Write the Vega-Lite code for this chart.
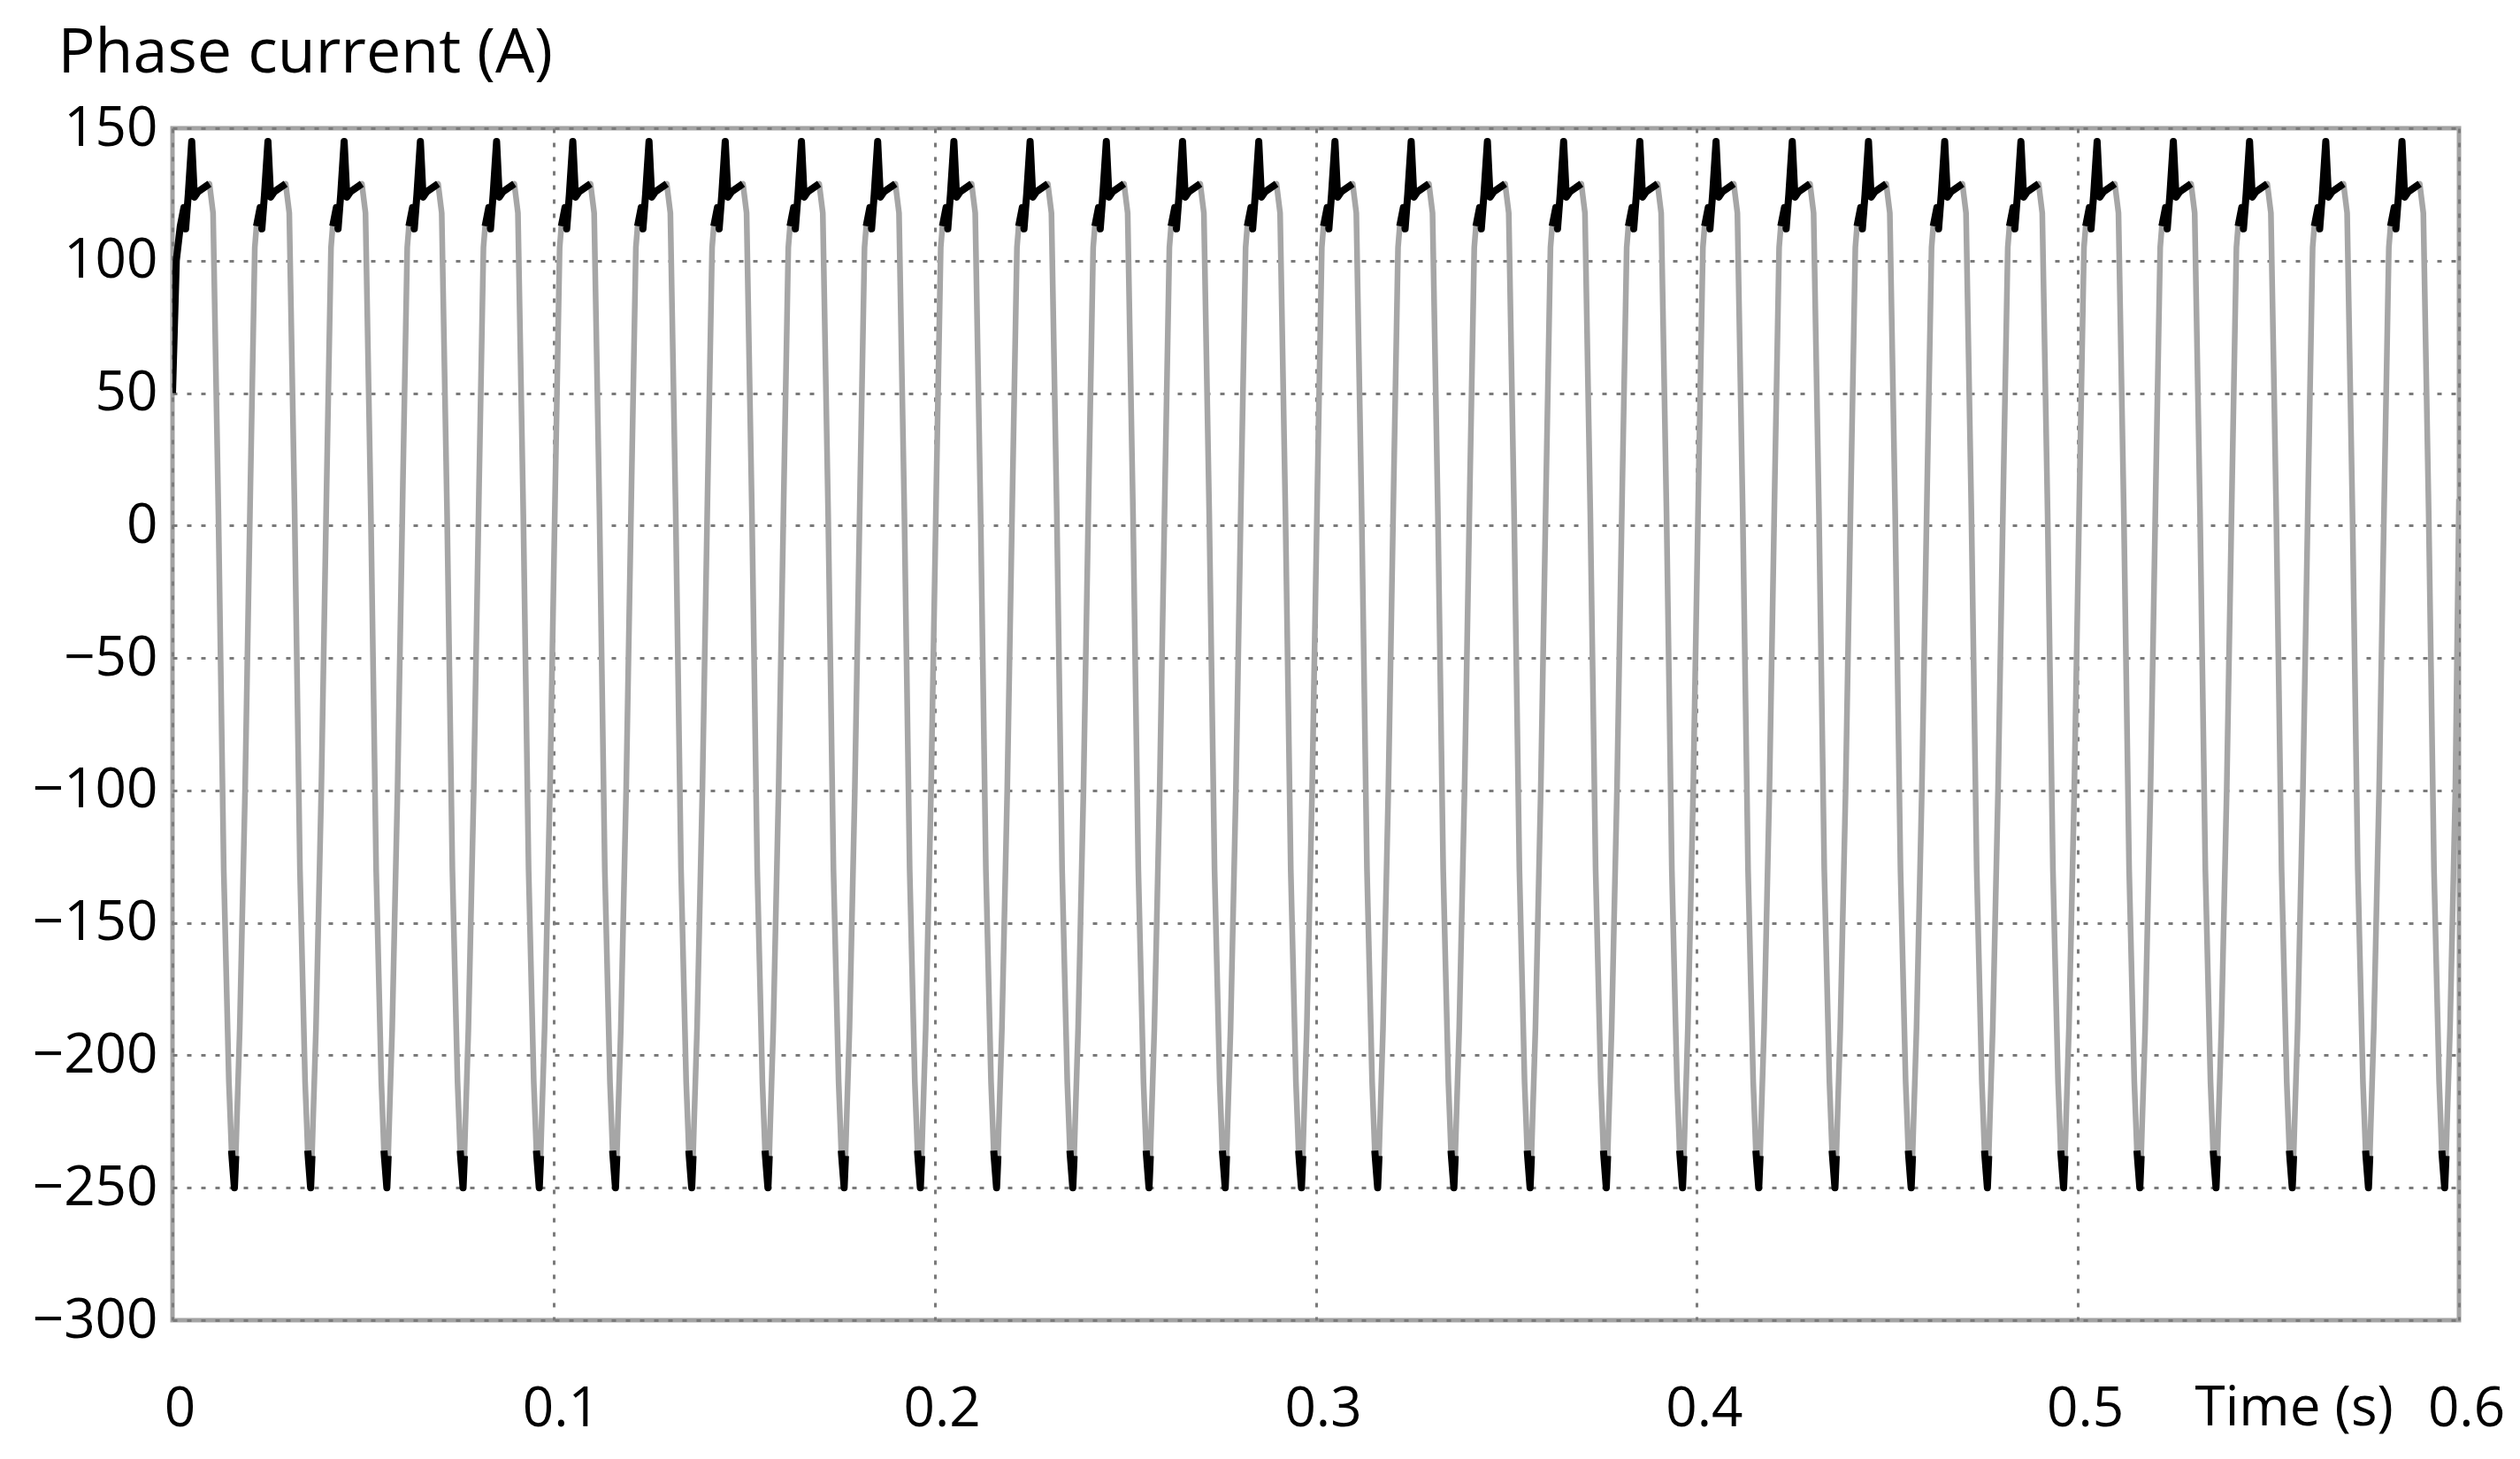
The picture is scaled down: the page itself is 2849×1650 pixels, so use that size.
{
"$schema":"https://vega.github.io/schema/vega-lite/v6.json",
"width":2585,"height":1348,"autosize":"none",
"padding":{"left":195,"top":145,"right":69,"bottom":157},
"background":"white",
"config":{"view":{"stroke":"#a3a3a3","strokeWidth":5},
"axis":{"domain":false,"ticks":false,"grid":true,"gridColor":"#7a7a7a","gridDash":[5,11],"gridWidth":3,"labelFont":"Open Sans","labelFontSize":62,"labelColor":"#000","titleFont":"Open Sans","titleFontSize":64,"titleFontWeight":"normal","titleColor":"#000"}},
"data":{"values":[
{"t":0,"v":50,"s":"p-1"},{"t":0.001,"v":100,"s":"p-1"},{"t":0.00205,"v":113,"s":"p-1"},{"t":0.003,"v":120,"s":"p-1"},{"t":0.00345,"v":112,"s":"p-1"},{"t":0.00415,"v":125,"s":"p-1"},{"t":0.00505,"v":145,"s":"p-1"},{"t":0.00575,"v":124,"s":"p-1"},{"t":0.0067,"v":126,"s":"p-1"},{"t":0.0097,"v":129,"s":"p-1"},{"t":0.01065,"v":118},{"t":0.01205,"v":5},{"t":0.01345,"v":-130},{"t":0.0148,"v":-210},{"t":0.0155,"v":-236,"s":"q0"},
{"t":0.01625,"v":-250,"s":"q0"},{"t":0.0166,"v":-238,"s":"q0"},{"t":0.01765,"v":-190},{"t":0.01905,"v":-100},{"t":0.02045,"v":15},{"t":0.0216,"v":105},{"t":0.02205,"v":113,"s":"p0"},{"t":0.023,"v":120,"s":"p0"},{"t":0.02345,"v":112,"s":"p0"},{"t":0.02415,"v":125,"s":"p0"},{"t":0.02505,"v":145,"s":"p0"},{"t":0.02575,"v":124,"s":"p0"},{"t":0.0267,"v":126,"s":"p0"},{"t":0.0297,"v":129,"s":"p0"},{"t":0.03065,"v":118},{"t":0.03205,"v":5},{"t":0.03345,"v":-130},{"t":0.0348,"v":-210},{"t":0.0355,"v":-236,"s":"q1"},
{"t":0.03625,"v":-250,"s":"q1"},{"t":0.0366,"v":-238,"s":"q1"},{"t":0.03765,"v":-190},{"t":0.03905,"v":-100},{"t":0.04045,"v":15},{"t":0.0416,"v":105},{"t":0.04205,"v":113,"s":"p1"},{"t":0.043,"v":120,"s":"p1"},{"t":0.04345,"v":112,"s":"p1"},{"t":0.04415,"v":125,"s":"p1"},{"t":0.04505,"v":145,"s":"p1"},{"t":0.04575,"v":124,"s":"p1"},{"t":0.0467,"v":126,"s":"p1"},{"t":0.0497,"v":129,"s":"p1"},{"t":0.05065,"v":118},{"t":0.05205,"v":5},{"t":0.05345,"v":-130},{"t":0.0548,"v":-210},{"t":0.0555,"v":-236,"s":"q2"},
{"t":0.05625,"v":-250,"s":"q2"},{"t":0.0566,"v":-238,"s":"q2"},{"t":0.05765,"v":-190},{"t":0.05905,"v":-100},{"t":0.06045,"v":15},{"t":0.0616,"v":105},{"t":0.06205,"v":113,"s":"p2"},{"t":0.063,"v":120,"s":"p2"},{"t":0.06345,"v":112,"s":"p2"},{"t":0.06415,"v":125,"s":"p2"},{"t":0.06505,"v":145,"s":"p2"},{"t":0.06575,"v":124,"s":"p2"},{"t":0.0667,"v":126,"s":"p2"},{"t":0.0697,"v":129,"s":"p2"},{"t":0.07065,"v":118},{"t":0.07205,"v":5},{"t":0.07345,"v":-130},{"t":0.0748,"v":-210},{"t":0.0755,"v":-236,"s":"q3"},
{"t":0.07625,"v":-250,"s":"q3"},{"t":0.0766,"v":-238,"s":"q3"},{"t":0.07765,"v":-190},{"t":0.07905,"v":-100},{"t":0.08045,"v":15},{"t":0.0816,"v":105},{"t":0.08205,"v":113,"s":"p3"},{"t":0.083,"v":120,"s":"p3"},{"t":0.08345,"v":112,"s":"p3"},{"t":0.08415,"v":125,"s":"p3"},{"t":0.08505,"v":145,"s":"p3"},{"t":0.08575,"v":124,"s":"p3"},{"t":0.0867,"v":126,"s":"p3"},{"t":0.0897,"v":129,"s":"p3"},{"t":0.09065,"v":118},{"t":0.09205,"v":5},{"t":0.09345,"v":-130},{"t":0.0948,"v":-210},{"t":0.0955,"v":-236,"s":"q4"},
{"t":0.09625,"v":-250,"s":"q4"},{"t":0.0966,"v":-238,"s":"q4"},{"t":0.09765,"v":-190},{"t":0.09905,"v":-100},{"t":0.10045,"v":15},{"t":0.1016,"v":105},{"t":0.10205,"v":113,"s":"p4"},{"t":0.103,"v":120,"s":"p4"},{"t":0.10345,"v":112,"s":"p4"},{"t":0.10415,"v":125,"s":"p4"},{"t":0.10505,"v":145,"s":"p4"},{"t":0.10575,"v":124,"s":"p4"},{"t":0.1067,"v":126,"s":"p4"},{"t":0.1097,"v":129,"s":"p4"},{"t":0.11065,"v":118},{"t":0.11205,"v":5},{"t":0.11345,"v":-130},{"t":0.1148,"v":-210},{"t":0.1155,"v":-236,"s":"q5"},
{"t":0.11625,"v":-250,"s":"q5"},{"t":0.1166,"v":-238,"s":"q5"},{"t":0.11765,"v":-190},{"t":0.11905,"v":-100},{"t":0.12045,"v":15},{"t":0.1216,"v":105},{"t":0.12205,"v":113,"s":"p5"},{"t":0.123,"v":120,"s":"p5"},{"t":0.12345,"v":112,"s":"p5"},{"t":0.12415,"v":125,"s":"p5"},{"t":0.12505,"v":145,"s":"p5"},{"t":0.12575,"v":124,"s":"p5"},{"t":0.1267,"v":126,"s":"p5"},{"t":0.1297,"v":129,"s":"p5"},{"t":0.13065,"v":118},{"t":0.13205,"v":5},{"t":0.13345,"v":-130},{"t":0.1348,"v":-210},{"t":0.1355,"v":-236,"s":"q6"},
{"t":0.13625,"v":-250,"s":"q6"},{"t":0.1366,"v":-238,"s":"q6"},{"t":0.13765,"v":-190},{"t":0.13905,"v":-100},{"t":0.14045,"v":15},{"t":0.1416,"v":105},{"t":0.14205,"v":113,"s":"p6"},{"t":0.143,"v":120,"s":"p6"},{"t":0.14345,"v":112,"s":"p6"},{"t":0.14415,"v":125,"s":"p6"},{"t":0.14505,"v":145,"s":"p6"},{"t":0.14575,"v":124,"s":"p6"},{"t":0.1467,"v":126,"s":"p6"},{"t":0.1497,"v":129,"s":"p6"},{"t":0.15065,"v":118},{"t":0.15205,"v":5},{"t":0.15345,"v":-130},{"t":0.1548,"v":-210},{"t":0.1555,"v":-236,"s":"q7"},
{"t":0.15625,"v":-250,"s":"q7"},{"t":0.1566,"v":-238,"s":"q7"},{"t":0.15765,"v":-190},{"t":0.15905,"v":-100},{"t":0.16045,"v":15},{"t":0.1616,"v":105},{"t":0.16205,"v":113,"s":"p7"},{"t":0.163,"v":120,"s":"p7"},{"t":0.16345,"v":112,"s":"p7"},{"t":0.16415,"v":125,"s":"p7"},{"t":0.16505,"v":145,"s":"p7"},{"t":0.16575,"v":124,"s":"p7"},{"t":0.1667,"v":126,"s":"p7"},{"t":0.1697,"v":129,"s":"p7"},{"t":0.17065,"v":118},{"t":0.17205,"v":5},{"t":0.17345,"v":-130},{"t":0.1748,"v":-210},{"t":0.1755,"v":-236,"s":"q8"},
{"t":0.17625,"v":-250,"s":"q8"},{"t":0.1766,"v":-238,"s":"q8"},{"t":0.17765,"v":-190},{"t":0.17905,"v":-100},{"t":0.18045,"v":15},{"t":0.1816,"v":105},{"t":0.18205,"v":113,"s":"p8"},{"t":0.183,"v":120,"s":"p8"},{"t":0.18345,"v":112,"s":"p8"},{"t":0.18415,"v":125,"s":"p8"},{"t":0.18505,"v":145,"s":"p8"},{"t":0.18575,"v":124,"s":"p8"},{"t":0.1867,"v":126,"s":"p8"},{"t":0.1897,"v":129,"s":"p8"},{"t":0.19065,"v":118},{"t":0.19205,"v":5},{"t":0.19345,"v":-130},{"t":0.1948,"v":-210},{"t":0.1955,"v":-236,"s":"q9"},
{"t":0.19625,"v":-250,"s":"q9"},{"t":0.1966,"v":-238,"s":"q9"},{"t":0.19765,"v":-190},{"t":0.19905,"v":-100},{"t":0.20045,"v":15},{"t":0.2016,"v":105},{"t":0.20205,"v":113,"s":"p9"},{"t":0.203,"v":120,"s":"p9"},{"t":0.20345,"v":112,"s":"p9"},{"t":0.20415,"v":125,"s":"p9"},{"t":0.20505,"v":145,"s":"p9"},{"t":0.20575,"v":124,"s":"p9"},{"t":0.2067,"v":126,"s":"p9"},{"t":0.2097,"v":129,"s":"p9"},{"t":0.21065,"v":118},{"t":0.21205,"v":5},{"t":0.21345,"v":-130},{"t":0.2148,"v":-210},{"t":0.2155,"v":-236,"s":"q10"},
{"t":0.21625,"v":-250,"s":"q10"},{"t":0.2166,"v":-238,"s":"q10"},{"t":0.21765,"v":-190},{"t":0.21905,"v":-100},{"t":0.22045,"v":15},{"t":0.2216,"v":105},{"t":0.22205,"v":113,"s":"p10"},{"t":0.223,"v":120,"s":"p10"},{"t":0.22345,"v":112,"s":"p10"},{"t":0.22415,"v":125,"s":"p10"},{"t":0.22505,"v":145,"s":"p10"},{"t":0.22575,"v":124,"s":"p10"},{"t":0.2267,"v":126,"s":"p10"},{"t":0.2297,"v":129,"s":"p10"},{"t":0.23065,"v":118},{"t":0.23205,"v":5},{"t":0.23345,"v":-130},{"t":0.2348,"v":-210},{"t":0.2355,"v":-236,"s":"q11"},
{"t":0.23625,"v":-250,"s":"q11"},{"t":0.2366,"v":-238,"s":"q11"},{"t":0.23765,"v":-190},{"t":0.23905,"v":-100},{"t":0.24045,"v":15},{"t":0.2416,"v":105},{"t":0.24205,"v":113,"s":"p11"},{"t":0.243,"v":120,"s":"p11"},{"t":0.24345,"v":112,"s":"p11"},{"t":0.24415,"v":125,"s":"p11"},{"t":0.24505,"v":145,"s":"p11"},{"t":0.24575,"v":124,"s":"p11"},{"t":0.2467,"v":126,"s":"p11"},{"t":0.2497,"v":129,"s":"p11"},{"t":0.25065,"v":118},{"t":0.25205,"v":5},{"t":0.25345,"v":-130},{"t":0.2548,"v":-210},{"t":0.2555,"v":-236,"s":"q12"},
{"t":0.25625,"v":-250,"s":"q12"},{"t":0.2566,"v":-238,"s":"q12"},{"t":0.25765,"v":-190},{"t":0.25905,"v":-100},{"t":0.26045,"v":15},{"t":0.2616,"v":105},{"t":0.26205,"v":113,"s":"p12"},{"t":0.263,"v":120,"s":"p12"},{"t":0.26345,"v":112,"s":"p12"},{"t":0.26415,"v":125,"s":"p12"},{"t":0.26505,"v":145,"s":"p12"},{"t":0.26575,"v":124,"s":"p12"},{"t":0.2667,"v":126,"s":"p12"},{"t":0.2697,"v":129,"s":"p12"},{"t":0.27065,"v":118},{"t":0.27205,"v":5},{"t":0.27345,"v":-130},{"t":0.2748,"v":-210},{"t":0.2755,"v":-236,"s":"q13"},
{"t":0.27625,"v":-250,"s":"q13"},{"t":0.2766,"v":-238,"s":"q13"},{"t":0.27765,"v":-190},{"t":0.27905,"v":-100},{"t":0.28045,"v":15},{"t":0.2816,"v":105},{"t":0.28205,"v":113,"s":"p13"},{"t":0.283,"v":120,"s":"p13"},{"t":0.28345,"v":112,"s":"p13"},{"t":0.28415,"v":125,"s":"p13"},{"t":0.28505,"v":145,"s":"p13"},{"t":0.28575,"v":124,"s":"p13"},{"t":0.2867,"v":126,"s":"p13"},{"t":0.2897,"v":129,"s":"p13"},{"t":0.29065,"v":118},{"t":0.29205,"v":5},{"t":0.29345,"v":-130},{"t":0.2948,"v":-210},{"t":0.2955,"v":-236,"s":"q14"},
{"t":0.29625,"v":-250,"s":"q14"},{"t":0.2966,"v":-238,"s":"q14"},{"t":0.29765,"v":-190},{"t":0.29905,"v":-100},{"t":0.30045,"v":15},{"t":0.3016,"v":105},{"t":0.30205,"v":113,"s":"p14"},{"t":0.303,"v":120,"s":"p14"},{"t":0.30345,"v":112,"s":"p14"},{"t":0.30415,"v":125,"s":"p14"},{"t":0.30505,"v":145,"s":"p14"},{"t":0.30575,"v":124,"s":"p14"},{"t":0.3067,"v":126,"s":"p14"},{"t":0.3097,"v":129,"s":"p14"},{"t":0.31065,"v":118},{"t":0.31205,"v":5},{"t":0.31345,"v":-130},{"t":0.3148,"v":-210},{"t":0.3155,"v":-236,"s":"q15"},
{"t":0.31625,"v":-250,"s":"q15"},{"t":0.3166,"v":-238,"s":"q15"},{"t":0.31765,"v":-190},{"t":0.31905,"v":-100},{"t":0.32045,"v":15},{"t":0.3216,"v":105},{"t":0.32205,"v":113,"s":"p15"},{"t":0.323,"v":120,"s":"p15"},{"t":0.32345,"v":112,"s":"p15"},{"t":0.32415,"v":125,"s":"p15"},{"t":0.32505,"v":145,"s":"p15"},{"t":0.32575,"v":124,"s":"p15"},{"t":0.3267,"v":126,"s":"p15"},{"t":0.3297,"v":129,"s":"p15"},{"t":0.33065,"v":118},{"t":0.33205,"v":5},{"t":0.33345,"v":-130},{"t":0.3348,"v":-210},{"t":0.3355,"v":-236,"s":"q16"},
{"t":0.33625,"v":-250,"s":"q16"},{"t":0.3366,"v":-238,"s":"q16"},{"t":0.33765,"v":-190},{"t":0.33905,"v":-100},{"t":0.34045,"v":15},{"t":0.3416,"v":105},{"t":0.34205,"v":113,"s":"p16"},{"t":0.343,"v":120,"s":"p16"},{"t":0.34345,"v":112,"s":"p16"},{"t":0.34415,"v":125,"s":"p16"},{"t":0.34505,"v":145,"s":"p16"},{"t":0.34575,"v":124,"s":"p16"},{"t":0.3467,"v":126,"s":"p16"},{"t":0.3497,"v":129,"s":"p16"},{"t":0.35065,"v":118},{"t":0.35205,"v":5},{"t":0.35345,"v":-130},{"t":0.3548,"v":-210},{"t":0.3555,"v":-236,"s":"q17"},
{"t":0.35625,"v":-250,"s":"q17"},{"t":0.3566,"v":-238,"s":"q17"},{"t":0.35765,"v":-190},{"t":0.35905,"v":-100},{"t":0.36045,"v":15},{"t":0.3616,"v":105},{"t":0.36205,"v":113,"s":"p17"},{"t":0.363,"v":120,"s":"p17"},{"t":0.36345,"v":112,"s":"p17"},{"t":0.36415,"v":125,"s":"p17"},{"t":0.36505,"v":145,"s":"p17"},{"t":0.36575,"v":124,"s":"p17"},{"t":0.3667,"v":126,"s":"p17"},{"t":0.3697,"v":129,"s":"p17"},{"t":0.37065,"v":118},{"t":0.37205,"v":5},{"t":0.37345,"v":-130},{"t":0.3748,"v":-210},{"t":0.3755,"v":-236,"s":"q18"},
{"t":0.37625,"v":-250,"s":"q18"},{"t":0.3766,"v":-238,"s":"q18"},{"t":0.37765,"v":-190},{"t":0.37905,"v":-100},{"t":0.38045,"v":15},{"t":0.3816,"v":105},{"t":0.38205,"v":113,"s":"p18"},{"t":0.383,"v":120,"s":"p18"},{"t":0.38345,"v":112,"s":"p18"},{"t":0.38415,"v":125,"s":"p18"},{"t":0.38505,"v":145,"s":"p18"},{"t":0.38575,"v":124,"s":"p18"},{"t":0.3867,"v":126,"s":"p18"},{"t":0.3897,"v":129,"s":"p18"},{"t":0.39065,"v":118},{"t":0.39205,"v":5},{"t":0.39345,"v":-130},{"t":0.3948,"v":-210},{"t":0.3955,"v":-236,"s":"q19"},
{"t":0.39625,"v":-250,"s":"q19"},{"t":0.3966,"v":-238,"s":"q19"},{"t":0.39765,"v":-190},{"t":0.39905,"v":-100},{"t":0.40045,"v":15},{"t":0.4016,"v":105},{"t":0.40205,"v":113,"s":"p19"},{"t":0.403,"v":120,"s":"p19"},{"t":0.40345,"v":112,"s":"p19"},{"t":0.40415,"v":125,"s":"p19"},{"t":0.40505,"v":145,"s":"p19"},{"t":0.40575,"v":124,"s":"p19"},{"t":0.4067,"v":126,"s":"p19"},{"t":0.4097,"v":129,"s":"p19"},{"t":0.41065,"v":118},{"t":0.41205,"v":5},{"t":0.41345,"v":-130},{"t":0.4148,"v":-210},{"t":0.4155,"v":-236,"s":"q20"},
{"t":0.41625,"v":-250,"s":"q20"},{"t":0.4166,"v":-238,"s":"q20"},{"t":0.41765,"v":-190},{"t":0.41905,"v":-100},{"t":0.42045,"v":15},{"t":0.4216,"v":105},{"t":0.42205,"v":113,"s":"p20"},{"t":0.423,"v":120,"s":"p20"},{"t":0.42345,"v":112,"s":"p20"},{"t":0.42415,"v":125,"s":"p20"},{"t":0.42505,"v":145,"s":"p20"},{"t":0.42575,"v":124,"s":"p20"},{"t":0.4267,"v":126,"s":"p20"},{"t":0.4297,"v":129,"s":"p20"},{"t":0.43065,"v":118},{"t":0.43205,"v":5},{"t":0.43345,"v":-130},{"t":0.4348,"v":-210},{"t":0.4355,"v":-236,"s":"q21"},
{"t":0.43625,"v":-250,"s":"q21"},{"t":0.4366,"v":-238,"s":"q21"},{"t":0.43765,"v":-190},{"t":0.43905,"v":-100},{"t":0.44045,"v":15},{"t":0.4416,"v":105},{"t":0.44205,"v":113,"s":"p21"},{"t":0.443,"v":120,"s":"p21"},{"t":0.44345,"v":112,"s":"p21"},{"t":0.44415,"v":125,"s":"p21"},{"t":0.44505,"v":145,"s":"p21"},{"t":0.44575,"v":124,"s":"p21"},{"t":0.4467,"v":126,"s":"p21"},{"t":0.4497,"v":129,"s":"p21"},{"t":0.45065,"v":118},{"t":0.45205,"v":5},{"t":0.45345,"v":-130},{"t":0.4548,"v":-210},{"t":0.4555,"v":-236,"s":"q22"},
{"t":0.45625,"v":-250,"s":"q22"},{"t":0.4566,"v":-238,"s":"q22"},{"t":0.45765,"v":-190},{"t":0.45905,"v":-100},{"t":0.46045,"v":15},{"t":0.4616,"v":105},{"t":0.46205,"v":113,"s":"p22"},{"t":0.463,"v":120,"s":"p22"},{"t":0.46345,"v":112,"s":"p22"},{"t":0.46415,"v":125,"s":"p22"},{"t":0.46505,"v":145,"s":"p22"},{"t":0.46575,"v":124,"s":"p22"},{"t":0.4667,"v":126,"s":"p22"},{"t":0.4697,"v":129,"s":"p22"},{"t":0.47065,"v":118},{"t":0.47205,"v":5},{"t":0.47345,"v":-130},{"t":0.4748,"v":-210},{"t":0.4755,"v":-236,"s":"q23"},
{"t":0.47625,"v":-250,"s":"q23"},{"t":0.4766,"v":-238,"s":"q23"},{"t":0.47765,"v":-190},{"t":0.47905,"v":-100},{"t":0.48045,"v":15},{"t":0.4816,"v":105},{"t":0.48205,"v":113,"s":"p23"},{"t":0.483,"v":120,"s":"p23"},{"t":0.48345,"v":112,"s":"p23"},{"t":0.48415,"v":125,"s":"p23"},{"t":0.48505,"v":145,"s":"p23"},{"t":0.48575,"v":124,"s":"p23"},{"t":0.4867,"v":126,"s":"p23"},{"t":0.4897,"v":129,"s":"p23"},{"t":0.49065,"v":118},{"t":0.49205,"v":5},{"t":0.49345,"v":-130},{"t":0.4948,"v":-210},{"t":0.4955,"v":-236,"s":"q24"},
{"t":0.49625,"v":-250,"s":"q24"},{"t":0.4966,"v":-238,"s":"q24"},{"t":0.49765,"v":-190},{"t":0.49905,"v":-100},{"t":0.50045,"v":15},{"t":0.5016,"v":105},{"t":0.50205,"v":113,"s":"p24"},{"t":0.503,"v":120,"s":"p24"},{"t":0.50345,"v":112,"s":"p24"},{"t":0.50415,"v":125,"s":"p24"},{"t":0.50505,"v":145,"s":"p24"},{"t":0.50575,"v":124,"s":"p24"},{"t":0.5067,"v":126,"s":"p24"},{"t":0.5097,"v":129,"s":"p24"},{"t":0.51065,"v":118},{"t":0.51205,"v":5},{"t":0.51345,"v":-130},{"t":0.5148,"v":-210},{"t":0.5155,"v":-236,"s":"q25"},
{"t":0.51625,"v":-250,"s":"q25"},{"t":0.5166,"v":-238,"s":"q25"},{"t":0.51765,"v":-190},{"t":0.51905,"v":-100},{"t":0.52045,"v":15},{"t":0.5216,"v":105},{"t":0.52205,"v":113,"s":"p25"},{"t":0.523,"v":120,"s":"p25"},{"t":0.52345,"v":112,"s":"p25"},{"t":0.52415,"v":125,"s":"p25"},{"t":0.52505,"v":145,"s":"p25"},{"t":0.52575,"v":124,"s":"p25"},{"t":0.5267,"v":126,"s":"p25"},{"t":0.5297,"v":129,"s":"p25"},{"t":0.53065,"v":118},{"t":0.53205,"v":5},{"t":0.53345,"v":-130},{"t":0.5348,"v":-210},{"t":0.5355,"v":-236,"s":"q26"},
{"t":0.53625,"v":-250,"s":"q26"},{"t":0.5366,"v":-238,"s":"q26"},{"t":0.53765,"v":-190},{"t":0.53905,"v":-100},{"t":0.54045,"v":15},{"t":0.5416,"v":105},{"t":0.54205,"v":113,"s":"p26"},{"t":0.543,"v":120,"s":"p26"},{"t":0.54345,"v":112,"s":"p26"},{"t":0.54415,"v":125,"s":"p26"},{"t":0.54505,"v":145,"s":"p26"},{"t":0.54575,"v":124,"s":"p26"},{"t":0.5467,"v":126,"s":"p26"},{"t":0.5497,"v":129,"s":"p26"},{"t":0.55065,"v":118},{"t":0.55205,"v":5},{"t":0.55345,"v":-130},{"t":0.5548,"v":-210},{"t":0.5555,"v":-236,"s":"q27"},
{"t":0.55625,"v":-250,"s":"q27"},{"t":0.5566,"v":-238,"s":"q27"},{"t":0.55765,"v":-190},{"t":0.55905,"v":-100},{"t":0.56045,"v":15},{"t":0.5616,"v":105},{"t":0.56205,"v":113,"s":"p27"},{"t":0.563,"v":120,"s":"p27"},{"t":0.56345,"v":112,"s":"p27"},{"t":0.56415,"v":125,"s":"p27"},{"t":0.56505,"v":145,"s":"p27"},{"t":0.56575,"v":124,"s":"p27"},{"t":0.5667,"v":126,"s":"p27"},{"t":0.5697,"v":129,"s":"p27"},{"t":0.57065,"v":118},{"t":0.57205,"v":5},{"t":0.57345,"v":-130},{"t":0.5748,"v":-210},{"t":0.5755,"v":-236,"s":"q28"},
{"t":0.57625,"v":-250,"s":"q28"},{"t":0.5766,"v":-238,"s":"q28"},{"t":0.57765,"v":-190},{"t":0.57905,"v":-100},{"t":0.58045,"v":15},{"t":0.5816,"v":105},{"t":0.58205,"v":113,"s":"p28"},{"t":0.583,"v":120,"s":"p28"},{"t":0.58345,"v":112,"s":"p28"},{"t":0.58415,"v":125,"s":"p28"},{"t":0.58505,"v":145,"s":"p28"},{"t":0.58575,"v":124,"s":"p28"},{"t":0.5867,"v":126,"s":"p28"},{"t":0.5897,"v":129,"s":"p28"},{"t":0.59065,"v":118},{"t":0.59205,"v":5},{"t":0.59345,"v":-130},{"t":0.5948,"v":-210},{"t":0.5955,"v":-236,"s":"q29"},
{"t":0.59625,"v":-250,"s":"q29"},{"t":0.5966,"v":-238,"s":"q29"},{"t":0.59765,"v":-190},{"t":0.59905,"v":-100},{"t":0.6,"v":10}
]},
"layer":[
{"mark":{"type":"line","color":"#a6a6a6","strokeWidth":6.5,"strokeJoin":"round","clip":true},
"encoding":{
"x":{"field":"t","type":"quantitative","scale":{"domain":[0,0.6],"nice":false,"zero":false},
"axis":{"values":[0,0.1,0.2,0.3,0.4,0.5,0.6],"format":"~g","labelPadding":70,"labelOffset":8,"labelFlush":false,"labelOverlap":false,"labelBound":false,"title":"Time (s)","titleFontSize":62,"titleX":2286,"titleY":99,"titleAlign":"left","titleBaseline":"middle","titleAnchor":"start"}},
"y":{"field":"v","type":"quantitative","scale":{"domain":[-300,150],"nice":false,"zero":false},
"axis":{"values":[150,100,50,0,-50,-100,-150,-200,-250,-300],"format":"d","labelPadding":17,"labelOverlap":false,"labelFlush":false,"title":"Phase current (A)","titleFontSize":70,"titleAngle":0,"titleX":-130,"titleY":-85,"titleAlign":"left","titleBaseline":"middle","titleAnchor":"start"}}}},
{"transform":[{"filter":"isValid(datum.s)"}],
"mark":{"type":"line","color":"#000000","strokeWidth":8,"strokeJoin":"round","clip":true},
"encoding":{"x":{"field":"t","type":"quantitative"},"y":{"field":"v","type":"quantitative"},"detail":{"field":"s"}}}
]
}
